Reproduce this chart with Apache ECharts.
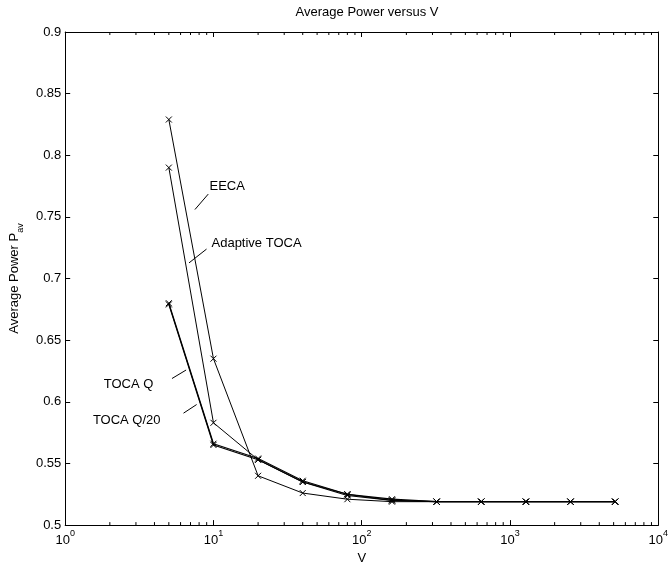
<!DOCTYPE html>
<html>
<head>
<meta charset="utf-8">
<script src="https://cdn.jsdelivr.net/npm/echarts@6/dist/echarts.min.js"></script>
<style>html,body{margin:0;padding:0;background:#fff}#c{width:671px;height:570px}</style>
</head>
<body>
<div id="c"></div>
<script>
// ---- data ----
const xValues = [5, 10, 20, 40, 80, 160, 320, 640, 1280, 2560, 5120];
const eeca      = [0.829, 0.635, 0.540, 0.526, 0.521, 0.519, 0.519, 0.519, 0.519, 0.519, 0.519];
const adaptive  = [0.790, 0.583, 0.553, 0.535, 0.525, 0.520, 0.519, 0.519, 0.519, 0.519, 0.519];
const tocaQ     = [0.680, 0.566, 0.554, 0.536, 0.525, 0.521, 0.519, 0.519, 0.519, 0.519, 0.519];
const tocaQ20   = [0.679, 0.565, 0.553, 0.535, 0.524, 0.520, 0.519, 0.519, 0.519, 0.519, 0.519];
const yTicks = [0.5, 0.55, 0.6, 0.65, 0.7, 0.75, 0.8, 0.85, 0.9];
const xMinorTicks = [];
[1, 10, 100, 1000].forEach(d => { for (let k = 2; k <= 9; k++) xMinorTicks.push(k * d); });
// annotations: text, text anchor (x,y), pointer from (x1,y1) to (x2,y2)
const annotText = ['EECA', 'Adaptive TOCA', 'TOCA Q', 'TOCA Q/20'];
const annotPos  = [[9.40, 0.7745], [9.70, 0.7285], [1.82, 0.6140], [1.537, 0.5852]];
const annotLine = [[9.22, 0.7685, 7.50, 0.7560], [8.98, 0.7239, 6.84, 0.7127],
                   [5.25, 0.6189, 6.54, 0.6258], [6.28, 0.5908, 7.70, 0.5978]];

const FONT = 'Liberation Sans, Arial, Helvetica, sans-serif';
const chart = echarts.init(document.getElementById('c'), null, {renderer: 'canvas'});

function lineSeries(name, vals, w) {
  return {
    name, type: 'line', data: xValues.map((x, i) => [x, vals[i]]),
    symbol: 'path://M0,0L10,10M10,0L0,10', symbolSize: 6,
    itemStyle: {color: 'rgba(0,0,0,0)', borderColor: '#000', borderWidth: 1},
    lineStyle: {color: '#000', width: w},
    silent: true, z: 3
  };
}

const supRich = {
  b: {fontFamily: FONT, fontSize: 13, color: '#000', verticalAlign: 'top', lineHeight: 20, padding: [5, 0, 0, 0]},
  s: {fontFamily: FONT, fontSize: 9, color: '#000', verticalAlign: 'top', lineHeight: 20}
};

const xAxisBase = {
  type: 'log', logBase: 10, min: 1, max: 10000,
  axisLine: {onZero: false, lineStyle: {color: '#000', width: 1}},
  axisTick: {inside: true, length: 5, lineStyle: {color: '#000'}},
  splitLine: {show: false}, minorTick: {show: false}
};
const yAxisBase = {
  type: 'value', min: 0.5, max: 0.9, interval: 0.05,
  axisLine: {show: true, lineStyle: {color: '#000', width: 1}},
  axisTick: {inside: true, length: 5, lineStyle: {color: '#000'}},
  splitLine: {show: false}
};

const option = {
  animation: false,
  backgroundColor: '#fff',
  title: {
    text: 'Average Power versus V', left: 362, top: 1, textAlign: 'center',
    textStyle: {fontFamily: FONT, fontSize: 13, fontWeight: 'normal', color: '#000'}
  },
  grid: {left: 62, right: 9, top: 32, bottom: 39, containLabel: false},
  xAxis: [
    Object.assign({}, xAxisBase, {
      position: 'bottom', name: 'V', nameLocation: 'middle', nameGap: 18,
      nameTextStyle: {fontFamily: FONT, fontSize: 13, color: '#000'},
      axisLabel: {
        margin: 4, color: '#000',
        formatter: v => '{b|10}{s|' + Math.round(Math.log10(v)) + '}',
        rich: supRich
      }
    }),
    Object.assign({}, xAxisBase, {position: 'top', axisLabel: {show: false}})
  ],
  yAxis: [
    Object.assign({}, yAxisBase, {
      position: 'left',
      name: '{m|Average Power P}{s|av}', nameLocation: 'middle', nameGap: 36,
      nameTextStyle: {
        rich: {
          m: {fontFamily: FONT, fontSize: 13, color: '#000', verticalAlign: 'top', lineHeight: 18},
          s: {fontFamily: FONT, fontSize: 9, color: '#000', verticalAlign: 'top', lineHeight: 18, padding: [8, 0, 0, 0]}
        }
      },
      axisLabel: {margin: 4, color: '#000', fontFamily: FONT, fontSize: 13,
        formatter: v => String(+v.toFixed(2))}
    }),
    Object.assign({}, yAxisBase, {position: 'right', axisLabel: {show: false}})
  ],
  series: [
    lineSeries('EECA', eeca, 1),
    lineSeries('Adaptive TOCA', adaptive, 1),
    lineSeries('TOCA Q', tocaQ, 1.2),
    lineSeries('TOCA Q/20', tocaQ20, 1.2),
    {
      type: 'custom', silent: true, clip: false, z: 4,
      data: xMinorTicks.map(v => [v, 0.5]),
      renderItem: (params, api) => {
        const b = api.coord([api.value(0), 0.5]);
        const t = api.coord([api.value(0), 0.9]);
        return {type: 'group', children: [
          {type: 'line', shape: {x1: b[0], y1: b[1], x2: b[0], y2: b[1] - 3}, style: {stroke: '#000', lineWidth: 1}},
          {type: 'line', shape: {x1: t[0], y1: t[1], x2: t[0], y2: t[1] + 3}, style: {stroke: '#000', lineWidth: 1}}
        ]};
      }
    },
    {
      type: 'custom', silent: true, clip: false, z: 5,
      data: annotText.map((s, i) => [annotPos[i][0], annotPos[i][1], i]),
      renderItem: (params, api) => {
        const i = api.value(2);
        const p = api.coord([annotPos[i][0], annotPos[i][1]]);
        const a = api.coord([annotLine[i][0], annotLine[i][1]]);
        const b = api.coord([annotLine[i][2], annotLine[i][3]]);
        return {type: 'group', children: [
          {type: 'text', x: p[0], y: p[1], style: {text: annotText[i], fill: '#000',
            font: '13px ' + FONT, textAlign: 'left', textVerticalAlign: 'middle'}},
          {type: 'line', shape: {x1: a[0], y1: a[1], x2: b[0], y2: b[1]}, style: {stroke: '#000', lineWidth: 1}}
        ]};
      }
    }
  ]
};
chart.setOption(option);
</script>
</body>
</html>
